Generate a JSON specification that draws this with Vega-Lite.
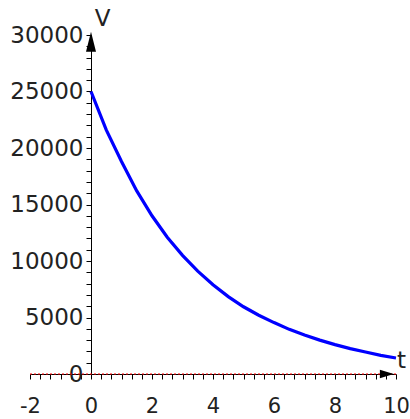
{
  "$schema": "https://vega.github.io/schema/vega-lite/v6.json",
  "width": 366,
  "height": 339,
  "autosize": "none",
  "padding": {"left": 30, "top": 35, "right": 14, "bottom": 45},
  "background": "white",
  "view": {"stroke": null},
  "config": {
    "font": "DejaVu Sans",
    "axis": {"grid": false, "labelFont": "DejaVu Sans", "titleFont": "DejaVu Sans"}
  },
  "layer": [
    {
      "data": {"values": [{"t": -2, "v": 0}, {"t": 10, "v": 0}]},
      "mark": {"type": "line", "color": "#ff0000", "strokeWidth": 1.2, "strokeDash": [2, 2]},
      "encoding": {
        "x": {
          "field": "t",
          "type": "quantitative",
          "scale": {"domain": [-2, 10], "nice": false, "zero": false},
          "axis": {
            "values": [-2, -1.6667, -1.3333, -1, -0.6667, -0.3333, 0, 0.3333, 0.6667, 1, 1.3333, 1.6667, 2, 2.3333, 2.6667, 3, 3.3333, 3.6667, 4, 4.3333, 4.6667, 5, 5.3333, 5.6667, 6, 6.3333, 6.6667, 7, 7.3333, 7.6667, 8, 8.3333, 8.6667, 9, 9.3333, 9.6667, 10],
            "tickCount": 200,
            "labelExpr": "abs(datum.value - round(datum.value)) < 0.001 && round(datum.value) % 2 === 0 ? '' + round(datum.value) : ''",
            "labelOverlap": false,
            "labelBound": false,
            "labelFlush": false,
            "tickSize": 5,
            "tickColor": "black",
            "domainColor": "black",
            "labelFontSize": 21,
            "labelColor": "#222222",
            "labelPadding": 16,
            "title": "t",
            "titleFontSize": 23,
            "titleFontWeight": "normal",
            "titleColor": "#222222",
            "titleAngle": 0,
            "titleAlign": "center",
            "titleBaseline": "middle",
            "titleX": 371,
            "titleY": -14
          }
        },
        "y": {
          "field": "v",
          "type": "quantitative",
          "scale": {"domain": [0, 30000], "nice": false},
          "axis": {
            "offset": -61,
            "values": [0, 1000, 2000, 3000, 4000, 5000, 6000, 7000, 8000, 9000, 10000, 11000, 12000, 13000, 14000, 15000, 16000, 17000, 18000, 19000, 20000, 21000, 22000, 23000, 24000, 25000, 26000, 27000, 28000, 29000, 30000],
            "tickCount": 200,
            "labelExpr": "datum.value % 5000 === 0 ? '' + datum.value : ''",
            "labelOverlap": false,
            "labelBound": false,
            "labelFlush": false,
            "tickSize": 5,
            "tickColor": "black",
            "domainColor": "black",
            "labelFontSize": 23,
            "labelColor": "#222222",
            "labelPadding": 3,
            "title": "V",
            "titleFontSize": 23,
            "titleFontWeight": "normal",
            "titleColor": "#222222",
            "titleAngle": 0,
            "titleAlign": "center",
            "titleBaseline": "middle",
            "titleX": 11,
            "titleY": -17
          }
        }
      }
    },
    {
      "data": {
        "values": [
          {"t": 0, "v": 25000}, {"t": 0.5, "v": 21600}, {"t": 1, "v": 18800},
          {"t": 1.5, "v": 16200}, {"t": 2, "v": 14000}, {"t": 2.5, "v": 12100},
          {"t": 3, "v": 10500}, {"t": 3.5, "v": 9100}, {"t": 4, "v": 7900},
          {"t": 4.5, "v": 6850}, {"t": 5, "v": 5950}, {"t": 5.5, "v": 5200},
          {"t": 6, "v": 4550}, {"t": 6.5, "v": 3950}, {"t": 7, "v": 3450},
          {"t": 7.5, "v": 3000}, {"t": 8, "v": 2600}, {"t": 8.5, "v": 2250},
          {"t": 9, "v": 1950}, {"t": 9.5, "v": 1650}, {"t": 10, "v": 1420}
        ]
      },
      "mark": {"type": "line", "color": "#0000ff", "strokeWidth": 3.2},
      "encoding": {
        "x": {"field": "t", "type": "quantitative"},
        "y": {"field": "v", "type": "quantitative"}
      }
    },
    {
      "data": {"values": [{"t": 0, "v": 29400}]},
      "mark": {"type": "point", "shape": "M0,-1L-0.5,1L0.5,1Z", "filled": true, "color": "black", "opacity": 1, "size": 400},
      "encoding": {
        "x": {"field": "t", "type": "quantitative"},
        "y": {"field": "v", "type": "quantitative"}
      }
    },
    {
      "data": {"values": [{"t": 9.7, "v": 0}]},
      "mark": {"type": "point", "shape": "M1,0L-1,-0.6L-1,0.6Z", "filled": true, "color": "black", "opacity": 1, "size": 196},
      "encoding": {
        "x": {"field": "t", "type": "quantitative"},
        "y": {"field": "v", "type": "quantitative"}
      }
    }
  ]
}
